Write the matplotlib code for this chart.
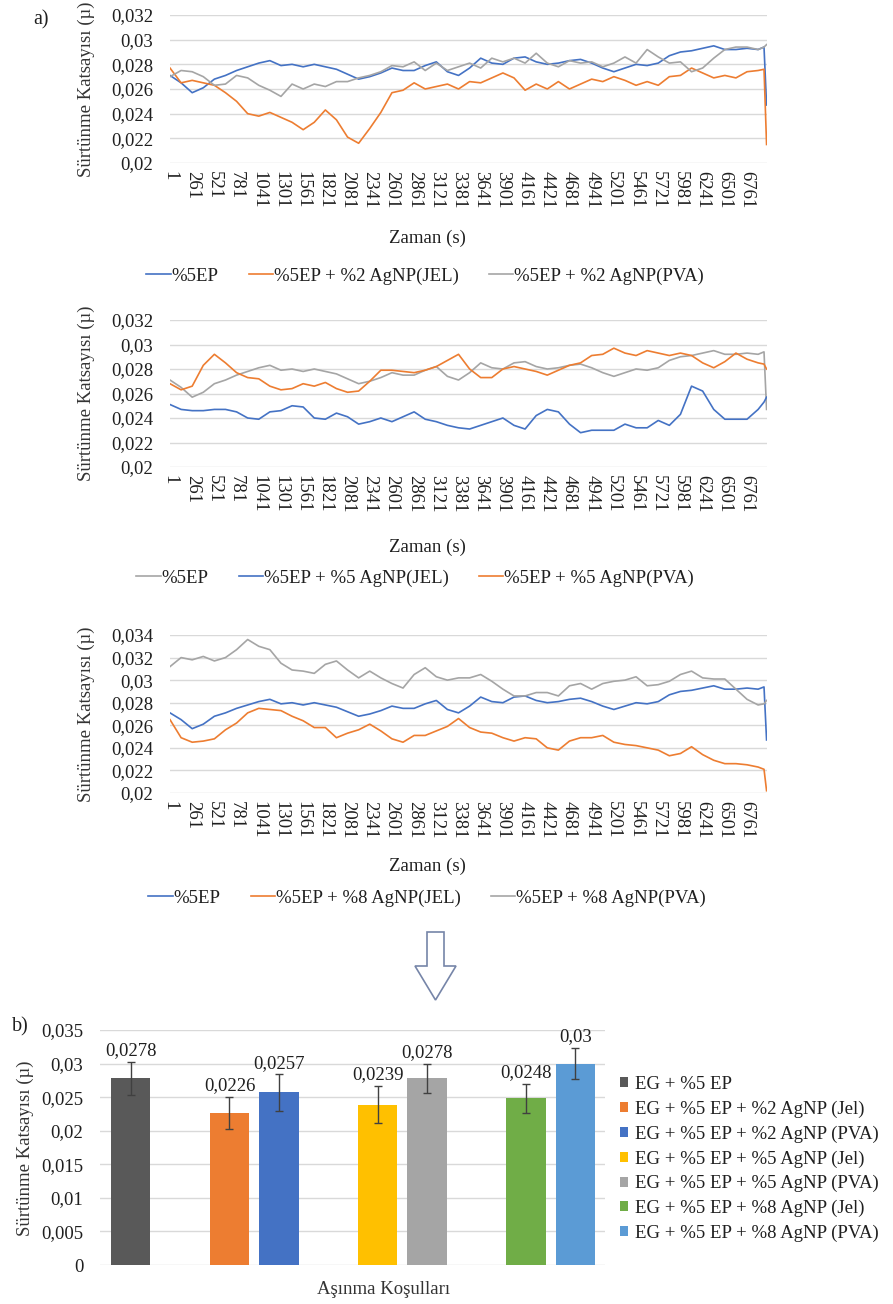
import numpy as np
import matplotlib
matplotlib.use("Agg")
import matplotlib.pyplot as plt
from matplotlib.patches import Polygon
from matplotlib.ticker import FuncFormatter

plt.rcParams['font.family'] = ['Liberation Serif', 'DejaVu Serif']

# time axis (s) - one reading every 130 s, plus the last two readings
time_s = list(range(1, 6900, 130)) + [6960, 6990]
tick_pos = list(range(1, 6800, 260))

# %5EP reference (same run in all three panels)
ep5 = [0.0271, 0.0265, 0.0257, 0.0261, 0.0268, 0.0271, 0.0275, 0.0278, 0.0281, 0.0283,
       0.0279, 0.0280, 0.0278, 0.0280, 0.0278, 0.0276, 0.0272, 0.0268, 0.0270, 0.0273,
       0.0277, 0.0275, 0.0275, 0.0279, 0.0282, 0.0274, 0.0271, 0.0277, 0.0285, 0.0281,
       0.0280, 0.0285, 0.0286, 0.0282, 0.0280, 0.0281, 0.0283, 0.0284, 0.0281, 0.0277,
       0.0274, 0.0277, 0.0280, 0.0279, 0.0281, 0.0287, 0.0290, 0.0291, 0.0293, 0.0295,
       0.0292, 0.0292, 0.0293, 0.0292, 0.0294, 0.0247]

jel2 = [0.0277, 0.0265, 0.0267, 0.0265, 0.0263, 0.0257, 0.0250, 0.0240, 0.0238, 0.0241,
        0.0237, 0.0233, 0.0227, 0.0233, 0.0243, 0.0235, 0.0221, 0.0216, 0.0228, 0.0241,
        0.0257, 0.0259, 0.0265, 0.0260, 0.0262, 0.0264, 0.0260, 0.0266, 0.0265, 0.0269,
        0.0273, 0.0269, 0.0259, 0.0264, 0.0260, 0.0266, 0.0260, 0.0264, 0.0268, 0.0266,
        0.0270, 0.0267, 0.0263, 0.0266, 0.0263, 0.0270, 0.0271, 0.0277, 0.0273, 0.0269,
        0.0271, 0.0269, 0.0274, 0.0275, 0.0276, 0.0215]

pva2 = [0.0270, 0.0275, 0.0274, 0.0270, 0.0263, 0.0264, 0.0271, 0.0269, 0.0263, 0.0259,
        0.0254, 0.0264, 0.0260, 0.0264, 0.0262, 0.0266, 0.0266, 0.0269, 0.0271, 0.0274,
        0.0279, 0.0278, 0.0282, 0.0275, 0.0281, 0.0275, 0.0278, 0.0281, 0.0277, 0.0285,
        0.0282, 0.0285, 0.0281, 0.0289, 0.0281, 0.0278, 0.0283, 0.0281, 0.0282, 0.0278,
        0.0281, 0.0286, 0.0281, 0.0292, 0.0286, 0.0281, 0.0282, 0.0274, 0.0277, 0.0285,
        0.0292, 0.0294, 0.0294, 0.0292, 0.0294, 0.0296]

jel5 = [0.0251, 0.0247, 0.0246, 0.0246, 0.0247, 0.0247, 0.0245, 0.0240, 0.0239, 0.0245,
        0.0246, 0.0250, 0.0249, 0.0240, 0.0239, 0.0244, 0.0241, 0.0235, 0.0237, 0.0240,
        0.0237, 0.0241, 0.0245, 0.0239, 0.0237, 0.0234, 0.0232, 0.0231, 0.0234, 0.0237,
        0.0240, 0.0234, 0.0231, 0.0242, 0.0247, 0.0245, 0.0235, 0.0228, 0.0230, 0.0230,
        0.0230, 0.0235, 0.0232, 0.0232, 0.0238, 0.0234, 0.0243, 0.0266, 0.0262, 0.0247,
        0.0239, 0.0239, 0.0239, 0.0247, 0.0253, 0.0257]

pva5 = [0.0268, 0.0263, 0.0266, 0.0283, 0.0292, 0.0285, 0.0277, 0.0273, 0.0272, 0.0266,
        0.0263, 0.0264, 0.0268, 0.0266, 0.0269, 0.0264, 0.0261, 0.0262, 0.0270, 0.0279,
        0.0279, 0.0278, 0.0277, 0.0279, 0.0282, 0.0287, 0.0292, 0.0280, 0.0273, 0.0273,
        0.0280, 0.0282, 0.0280, 0.0278, 0.0275, 0.0279, 0.0283, 0.0285, 0.0291, 0.0292,
        0.0297, 0.0293, 0.0291, 0.0295, 0.0293, 0.0291, 0.0293, 0.0291, 0.0285, 0.0281,
        0.0286, 0.0293, 0.0288, 0.0285, 0.0284, 0.0280]

jel8 = [0.0265, 0.0249, 0.0245, 0.0246, 0.0248, 0.0256, 0.0262, 0.0271, 0.0275, 0.0274,
        0.0273, 0.0268, 0.0264, 0.0258, 0.0258, 0.0249, 0.0253, 0.0256, 0.0261, 0.0255,
        0.0248, 0.0245, 0.0251, 0.0251, 0.0255, 0.0259, 0.0266, 0.0258, 0.0254, 0.0253,
        0.0249, 0.0246, 0.0249, 0.0248, 0.0240, 0.0238, 0.0246, 0.0249, 0.0249, 0.0251,
        0.0245, 0.0243, 0.0242, 0.0240, 0.0238, 0.0233, 0.0235, 0.0241, 0.0234, 0.0229,
        0.0226, 0.0226, 0.0225, 0.0223, 0.0221, 0.0202]

pva8 = [0.0312, 0.0320, 0.0318, 0.0321, 0.0317, 0.0320, 0.0327, 0.0336, 0.0330, 0.0327,
        0.0315, 0.0309, 0.0308, 0.0306, 0.0314, 0.0317, 0.0309, 0.0302, 0.0308, 0.0302,
        0.0297, 0.0293, 0.0305, 0.0311, 0.0303, 0.0300, 0.0302, 0.0302, 0.0305, 0.0299,
        0.0292, 0.0286, 0.0286, 0.0289, 0.0289, 0.0286, 0.0295, 0.0297, 0.0292, 0.0297,
        0.0299, 0.0300, 0.0303, 0.0295, 0.0296, 0.0299, 0.0305, 0.0308, 0.0302, 0.0301,
        0.0301, 0.0292, 0.0283, 0.0278, 0.0279, 0.0282]

# bar chart
bar_labels = ['EG + %5 EP', 'EG + %5 EP + %2 AgNP (Jel)', 'EG + %5 EP + %2 AgNP (PVA)',
              'EG + %5 EP + %5 AgNP (Jel)', 'EG + %5 EP + %5 AgNP (PVA)',
              'EG + %5 EP + %8 AgNP (Jel)', 'EG + %5 EP + %8 AgNP (PVA)']
bar_values = [0.0278, 0.0226, 0.0257, 0.0239, 0.0278, 0.0248, 0.03]
bar_err = [0.0025, 0.0024, 0.0027, 0.0028, 0.0022, 0.0022, 0.0023]

BLUE = '#4472C4'
ORANGE = '#ED7D31'
GRAY = '#A5A5A5'
bar_colors = ['#595959', ORANGE, BLUE, '#FFC000', GRAY, '#70AD47', '#5B9BD5']

FS = 13.5
TXT = '#1f1f1f'
W, H = 893, 1304


def fig_xy(x, y):
    return x / W, 1 - y / H


def comma(v, pos=None):
    return ('%g' % round(v, 4)).replace('.', ',')


fig = plt.figure(figsize=(W / 100, H / 100), dpi=100)

panels = [
    # (top px, bottom px, ylim, series, legend centre px, x-title y px)
    (15, 163, (0.02, 0.032), [(ep5, BLUE, '%5EP'), (jel2, ORANGE, '%5EP + %2 AgNP(JEL)'),
                              (pva2, GRAY, '%5EP + %2 AgNP(PVA)')], (425, 276), 238),
    (320, 467, (0.02, 0.032), [(ep5, GRAY, '%5EP'), (jel5, BLUE, '%5EP + %5 AgNP(JEL)'),
                               (pva5, ORANGE, '%5EP + %5 AgNP(PVA)')], (415, 578), 547),
    (635, 793, (0.02, 0.034), [(ep5, BLUE, '%5EP'), (jel8, ORANGE, '%5EP + %8 AgNP(JEL)'),
                               (pva8, GRAY, '%5EP + %8 AgNP(PVA)')], (427, 898), 866),
]

for top, bot, ylim, series, leg_c, xlab_y in panels:
    l, b = fig_xy(170, bot)
    ax = fig.add_axes([l, b, (767 - 170) / W, (bot - top) / H])
    for vals, col, lab in series:
        ax.plot(time_s, vals, color=col, lw=1.2, label=lab)
    ax.set_xlim(1, 6995)
    ax.set_ylim(*ylim)
    ax.set_yticks(np.arange(ylim[0], ylim[1] + 1e-9, 0.002))
    ax.yaxis.set_major_formatter(FuncFormatter(comma))
    ax.set_xticks(tick_pos, [str(t) for t in tick_pos], rotation=270)
    ax.tick_params(length=0, labelsize=FS, labelcolor=TXT)
    ax.tick_params(axis='y', pad=12)
    ax.tick_params(axis='x', pad=6)
    ax.grid(axis='y', color='#d9d9d9', lw=1)
    ax.set_axisbelow(True)
    for s in ax.spines.values():
        s.set_visible(False)
    fx, fy = fig_xy(86, (top + bot) / 2)
    fig.text(fx, fy, 'Sürtünme Katsayısı (µ)', rotation=90, ha='center', va='center',
             fontsize=FS, color='#333333')
    fx, fy = fig_xy(427, xlab_y)
    fig.text(fx, fy, 'Zaman (s)', ha='center', va='center', fontsize=FS, color=TXT)
    leg = ax.legend(loc='center', bbox_to_anchor=fig_xy(*leg_c), bbox_transform=fig.transFigure,
                    ncol=3, frameon=False, fontsize=FS, handlelength=1.3, handletextpad=0.05,
                    columnspacing=1.6, borderaxespad=0)
    for t in leg.get_texts():
        t.set_color(TXT)

fx, fy = fig_xy(41, 20)
fig.text(fx, fy, 'a)', ha='center', va='center', fontsize=FS + 1, color=TXT)

# hollow arrow between the panels
arrow_px = [(427, 932), (444, 932), (444, 966), (456, 966), (435.5, 1000),
            (415, 966), (427, 966)]
fig.add_artist(Polygon([fig_xy(x, y) for x, y in arrow_px], closed=True, fill=False,
                       edgecolor='#7685a8', lw=1.2, transform=fig.transFigure))

# bar chart
l, b = fig_xy(100, 1265)
axb = fig.add_axes([l, b, 505 / W, 235 / H])
slots = [0, 2, 3, 5, 6, 8, 9]
bars = axb.bar(slots, bar_values, width=0.8, color=bar_colors,
               yerr=bar_err, ecolor='#404040', error_kw=dict(lw=1, capsize=3, capthick=1))
for x, v, e in zip(slots, bar_values, bar_err):
    axb.text(x, v + e + 0.0004, comma(v), ha='center', va='bottom', fontsize=FS, color=TXT)
axb.set_xlim(-0.62, 9.6)
axb.set_ylim(0, 0.035)
axb.set_yticks(np.arange(0, 0.0351, 0.005))
axb.yaxis.set_major_formatter(FuncFormatter(comma))
axb.set_xticks([])
axb.tick_params(length=0, labelsize=FS, pad=12, labelcolor=TXT)
axb.grid(axis='y', color='#d9d9d9', lw=1)
axb.set_axisbelow(True)
for s in axb.spines.values():
    s.set_visible(False)
fx, fy = fig_xy(25, 1148)
fig.text(fx, fy, 'Sürtünme Katsayısı (µ)', rotation=90, ha='center', va='center',
         fontsize=FS, color='#333333')
fx, fy = fig_xy(384, 1290)
fig.text(fx, fy, 'Aşınma Koşulları', ha='center', va='center', fontsize=FS, color='#333333')
fx, fy = fig_xy(20, 1027)
fig.text(fx, fy, 'b)', ha='center', va='center', fontsize=FS + 1, color=TXT)

bleg = axb.legend(bars, bar_labels, loc='center left', bbox_to_anchor=fig_xy(620, 1159),
                  bbox_transform=fig.transFigure, frameon=False, fontsize=FS,
                  handlelength=0.45, handleheight=0.45, handletextpad=0.35, labelspacing=0.4,
                  borderaxespad=0, borderpad=0)
for t in bleg.get_texts():
    t.set_color(TXT)

fig.savefig('out.png', dpi=100)
